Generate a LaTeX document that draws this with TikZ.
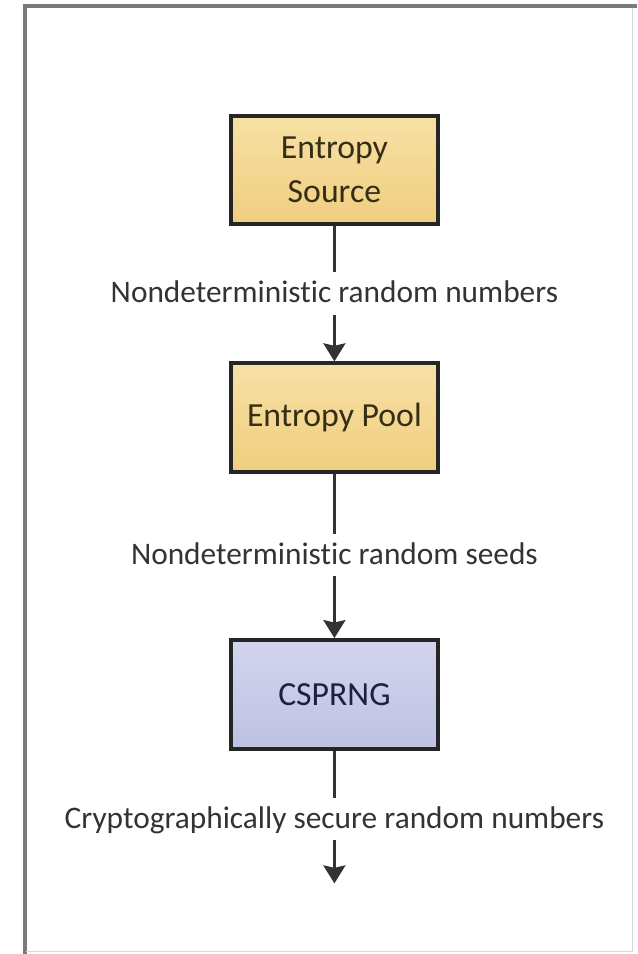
\documentclass[tikz,border=0pt]{standalone}
\usepackage{fontspec}
\setmainfont{Carlito}[Ligatures=NoCommon]
\usepackage{tikz}
\usepackage{xcolor}
\usetikzlibrary{arrows.meta, positioning}
\definecolor{goldtop}{HTML}{F8E0A6}
\definecolor{goldbot}{HTML}{EFCE7E}
\definecolor{lilactop}{HTML}{D3D5EE}
\definecolor{lilacbot}{HTML}{BEC1E3}
\definecolor{boxedge}{HTML}{262626}
\definecolor{brownink}{HTML}{352D15}
\definecolor{navyink}{HTML}{1B2240}
\definecolor{flowink}{HTML}{333333}
\definecolor{framegray}{HTML}{7A7A7A}
\tikzstyle{entropybox} = [rectangle, 
minimum width=5.18cm, 
minimum height=2.72cm, 
text centered, 
align=center,
line width=2.8pt,
draw=boxedge,
top color=goldtop, bottom color=goldbot,
text=brownink,
font=\fontsize{24}{31}\selectfont]
\tikzstyle{genbox} = [entropybox, 
top color=lilactop, bottom color=lilacbot,
text=navyink]
\tikzstyle{flowlabel} = [inner sep=0pt, 
minimum height=1.05cm, 
text height=14pt, 
text depth=1pt, 
text=flowink,
font=\fontsize{22.3}{27}\selectfont]
\tikzstyle{arrow} = [line width=2pt, draw=flowink, -{Stealth[length=0.45cm, width=0.55cm, inset=0.06cm]}]
\tikzstyle{link} = [line width=2pt, draw=flowink]

\begin{document}
\begin{tikzpicture}

        \useasboundingbox (0,0) rectangle (15.925,-23.85);

        % Marco
        \draw [line width=0.1cm, framegray] (0.625,-23.85) -- (0.625,-0.15) -- (15.925,-0.15);
        \draw [line width=0.5pt, black!15] (15.8,-0.2) -- (15.8,-23.775) -- (0.65,-23.775);

        % Nodes
        \node (source) [entropybox] at (8.36,-4.25) {Entropy\\Source};
        \node (numlbl) [flowlabel, below=1.14cm of source] {Nondeterministic random numbers};
        \node (pool) [entropybox, below=3.375cm of source] {Entropy Pool};
        \node (seedlbl) [flowlabel, below=1.495cm of pool] {Nondeterministic random seeds};
        \node (csprng) [genbox, below=4.1cm of pool] {CSPRNG};
        \node (outlbl) [flowlabel, below=1.175cm of csprng] {Cryptographically secure random numbers};
        \coordinate [below=1.075cm of outlbl] (outend);

        % Connections
        \draw [link] (source) -- (numlbl);
        \draw [arrow] (numlbl) -- (pool);
        \draw [link] (pool) -- (seedlbl);
        \draw [arrow] (seedlbl) -- (csprng);
        \draw [link] (csprng) -- (outlbl);
        \draw [arrow] (outlbl) -- (outend);

\end{tikzpicture}
\end{document}
